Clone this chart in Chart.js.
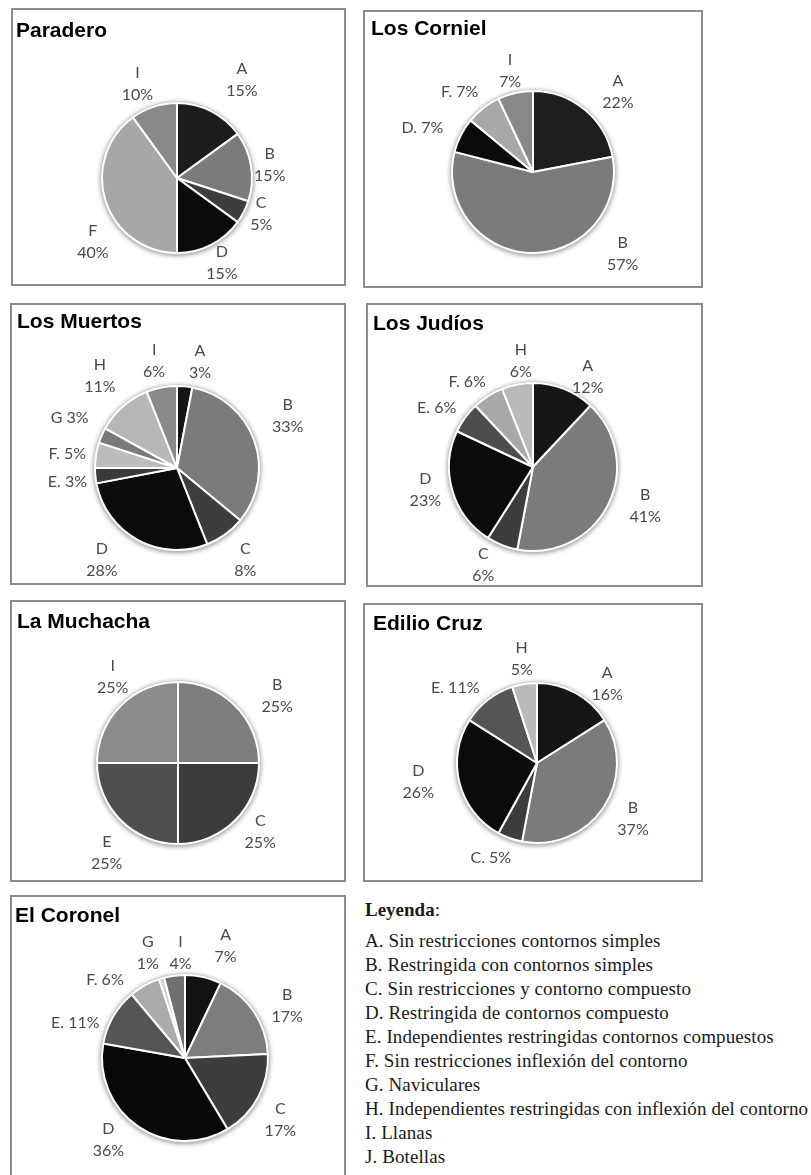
<!DOCTYPE html>
<html>
<head>
<meta charset="utf-8">
<script src="https://cdn.jsdelivr.net/npm/chart.js@4.4.1/dist/chart.umd.min.js"></script>
<style>
  body { margin: 0; background: #fff; }
  #page { position: relative; width: 811px; height: 1175px; overflow: hidden; background: #fff; }
  .panel { position: absolute; box-sizing: border-box; border: 2px solid #8c8c8c; }
  .title { position: absolute; font: bold 21px "Liberation Sans", Arial, sans-serif; line-height: 21px; color: #000; z-index: 2; white-space: nowrap; }
  canvas { position: absolute; z-index: 1; }
  .legend { position: absolute; left: 365px; font-family: "Liberation Serif", "DejaVu Serif", serif; color: #1a1a1a; white-space: nowrap; }
  #leyenda { top: 898px; font-size: 19px; line-height: 24px; }
  #leyenda b { font-weight: bold; }
  #items { top: 929px; font-size: 19px; line-height: 24px; letter-spacing: 0.1px; }
</style>
</head>
<body>
<div id="page">
  <div class="panel" style="left:11px;top:8px;width:335px;height:278px"></div>
  <div class="panel" style="left:363px;top:10px;width:340px;height:278px"></div>
  <div class="panel" style="left:10px;top:303px;width:336px;height:282px"></div>
  <div class="panel" style="left:366px;top:303px;width:337px;height:284px"></div>
  <div class="panel" style="left:10px;top:600px;width:336px;height:282px"></div>
  <div class="panel" style="left:363px;top:603px;width:340px;height:279px"></div>
  <div class="panel" style="left:10px;top:895px;width:336px;height:300px"></div>

  <div class="title" style="left:16px;top:19px">Paradero</div>
  <div class="title" style="left:371px;top:17px">Los Corniel</div>
  <div class="title" style="left:17px;top:310px">Los Muertos</div>
  <div class="title" style="left:373px;top:312px">Los Judíos</div>
  <div class="title" style="left:17px;top:610px">La Muchacha</div>
  <div class="title" style="left:373px;top:612px">Edilio Cruz</div>
  <div class="title" style="left:15px;top:904px">El Coronel</div>

  <div class="legend" id="leyenda"><b>Leyenda</b>:</div>
  <div class="legend" id="items"></div>
</div>
<script>
  // values, per site
  var paraderoCats = ["A", "B", "C", "D", "F", "I"];
  var paraderoVals = [15, 15, 5, 15, 40, 10];

  var cornielCats = ["A", "B", "D", "F", "I"];
  var cornielVals = [22, 57, 7, 7, 7];

  var muertosCats = ["A", "B", "C", "D", "E", "F", "G", "H", "I"];
  var muertosVals = [3, 33, 8, 28, 3, 5, 3, 11, 6];

  var judiosCats = ["A", "B", "C", "D", "E", "F", "H"];
  var judiosVals = [12, 41, 6, 23, 6, 6, 6];

  var muchachaCats = ["B", "C", "E", "I"];
  var muchachaVals = [25, 25, 25, 25];

  var edilioCats = ["A", "B", "C", "D", "E", "H"];
  var edilioVals = [16, 37, 5, 26, 11, 5];

  var coronelCats = ["A", "B", "C", "D", "E", "F", "G", "I"];
  var coronelVals = [7, 17, 17, 36, 11, 6, 1, 4];

  var legendItems = [
    "A. Sin restricciones contornos simples",
    "B. Restringida con contornos simples",
    "C. Sin restricciones y contorno compuesto",
    "D. Restringida de contornos compuesto",
    "E. Independientes restringidas contornos compuestos",
    "F. Sin restricciones inflexión del contorno",
    "G. Naviculares",
    "H. Independientes restringidas con inflexión del contorno",
    "I. Llanas",
    "J. Botellas"
  ];

  document.getElementById("items").innerHTML = legendItems.join("<br>");

  // outside labels: anchored on each arc's mid angle, then nudged like Excel placed them
  var pieLabels = {
    id: "pieLabels",
    beforeDatasetsDraw: function (chart) {
      var arc = chart.getDatasetMeta(0).data[0];
      var ctx = chart.ctx;
      ctx.save();
      ctx.shadowColor = "rgba(0,0,0,0.45)";
      ctx.shadowBlur = 5;
      ctx.shadowOffsetY = 1;
      ctx.fillStyle = "#c4c4c4";
      ctx.beginPath();
      ctx.arc(arc.x, arc.y, arc.outerRadius + 1.5, 0, Math.PI * 2);
      ctx.fill();
      ctx.restore();
    },
    afterDatasetsDraw: function (chart, args, opts) {
      var ctx = chart.ctx;
      var cats = chart.data.labels;
      var vals = chart.data.datasets[0].data;
      ctx.save();
      ctx.fillStyle = "#4a4a4a";
      ctx.font = "16px Lato, 'Open Sans', sans-serif";
      ctx.textAlign = "center";
      ctx.textBaseline = "middle";
      chart.getDatasetMeta(0).data.forEach(function (el, i) {
        var p = el.getProps(["x", "y", "startAngle", "endAngle", "outerRadius"], true);
        var mid = (p.startAngle + p.endAngle) / 2;
        var d = p.outerRadius + 24;
        var nudge = opts.nudge[i] || [0, 0];
        var lx = p.x + Math.cos(mid) * d + nudge[0];
        var ly = p.y + Math.sin(mid) * d + nudge[1];
        var style = opts.styles[i];
        if (style === "two") {
          ctx.fillText(cats[i], lx, ly - 11);
          ctx.fillText(vals[i] + "%", lx, ly + 11);
        } else if (style === "gap") {
          ctx.fillText(cats[i] + " " + vals[i] + "%", lx, ly);
        } else {
          ctx.fillText(cats[i] + ". " + vals[i] + "%", lx, ly);
        }
      });
      ctx.restore();
    }
  };

  function pieChart(cats, vals, colors, cx, cy, radius, styles, nudge) {
    var canvas = document.createElement("canvas");
    var w = 330, h = 290;
    canvas.width = w;
    canvas.height = h;
    canvas.style.width = w + "px";
    canvas.style.height = h + "px";
    canvas.style.left = (cx - w / 2) + "px";
    canvas.style.top = (cy - h / 2) + "px";
    document.getElementById("page").appendChild(canvas);
    return new Chart(canvas, {
      type: "pie",
      data: {
        labels: cats,
        datasets: [{
          data: vals,
          backgroundColor: colors,
          borderColor: "#ffffff",
          borderWidth: 2
        }]
      },
      options: {
        responsive: false,
        animation: false,
        events: [],
        radius: radius,
        layout: { padding: 0 },
        plugins: {
          legend: { display: false },
          tooltip: { enabled: false },
          pieLabels: { styles: styles, nudge: nudge }
        }
      },
      plugins: [pieLabels]
    });
  }

  pieChart(paraderoCats, paraderoVals,
    ["#1c1c1c", "#7b7b7b", "#3d3d3d", "#0b0b0b", "#a7a7a7", "#898989"],
    177, 178, 75,
    ["two", "two", "two", "two", "two", "two"],
    [[20, -10], [-5, 2], [-4, -9], [0, -3], [10, 33], [-9, 0]]);

  pieChart(cornielCats, cornielVals,
    ["#1e1e1e", "#7b7b7b", "#0b0b0b", "#a8a8a8", "#898989"],
    533, 172, 81,
    ["two", "two", "one", "one", "two"],
    [[18, 1], [93, -23], [-17, 4], [-9, 3], [0, 1]]);

  pieChart(muertosCats, muertosVals,
    ["#141414", "#7b7b7b", "#3d3d3d", "#0b0b0b", "#3a3a3a", "#bcbcbc", "#7a7a7a", "#b7b7b7", "#898989"],
    177, 468, 82,
    ["two", "two", "two", "two", "one", "one", "gap", "two", "two"],
    [[13, -1], [11, -16], [6, 6], [-24, -1], [-4, 4], [-5, 2], [-10, -8], [-7, -13], [-3, -3]]);

  pieChart(judiosCats, judiosVals,
    ["#161616", "#7b7b7b", "#3d3d3d", "#0b0b0b", "#4d4d4d", "#a8a8a8", "#bababa"],
    533, 467, 84,
    ["two", "two", "two", "two", "one", "one", "two"],
    [[15, 10], [16, -10], [-10, -3], [-4, -7], [-9, 4], [-8, 6], [8, 0]]);

  pieChart(muchachaCats, muchachaVals,
    ["#7e7e7e", "#3b3b3b", "#4f4f4f", "#8b8b8b"],
    178, 763, 81,
    ["two", "two", "two", "two"],
    [[25, 7], [8, -5], [3, 16], [9, -12]]);

  pieChart(edilioCats, edilioVals,
    ["#161616", "#7b7b7b", "#3d3d3d", "#0b0b0b", "#555555", "#bababa"],
    537, 763, 80,
    ["two", "two", "one", "two", "one", "two"],
    [[20, 12], [10, -3], [-11, -3], [-18, -7], [-18, 7], [1, -1]]);

  pieChart(coronelCats, coronelVals,
    ["#121212", "#7d7d7d", "#3d3d3d", "#080808", "#555555", "#ababab", "#d0d0d0", "#707070"],
    185, 1058, 83,
    ["two", "two", "two", "two", "one", "one", "two", "two"],
    [[17, -8], [13, 7], [1, 11], [-16, -6], [-17, 18], [-28, 15], [-7, -2], [9, 1]]);
</script>
</body>
</html>
